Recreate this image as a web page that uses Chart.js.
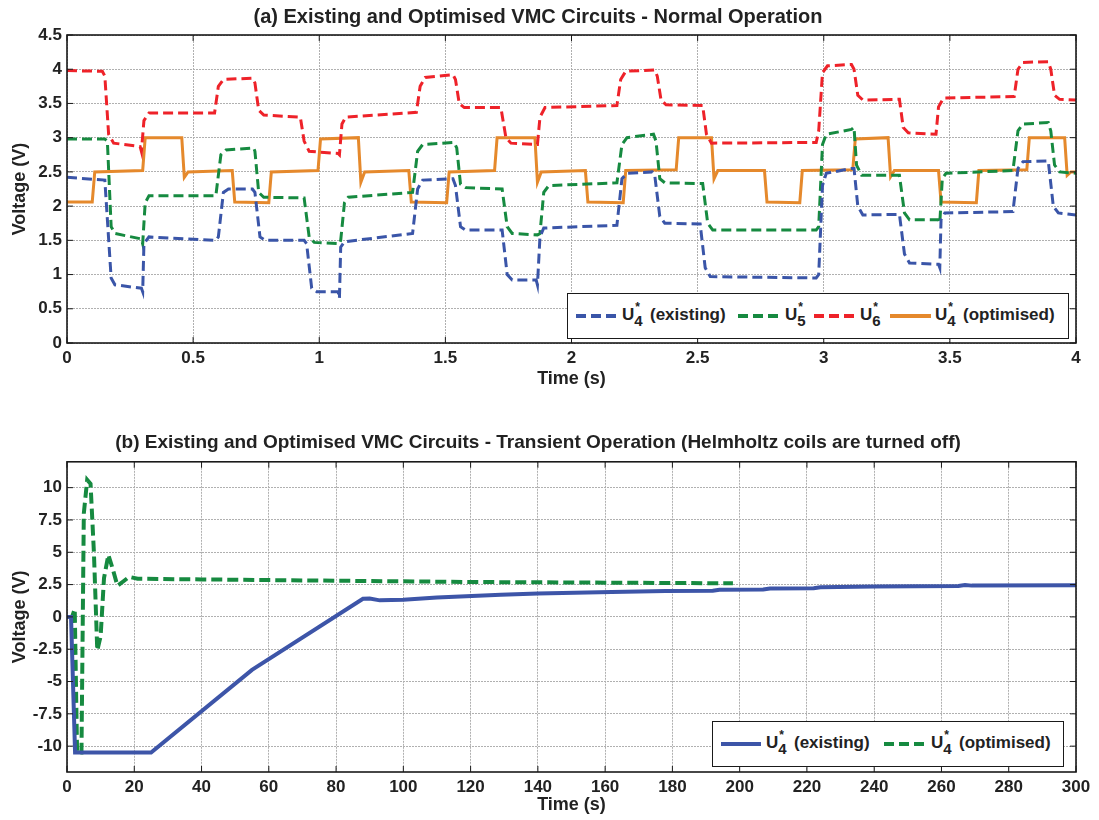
<!DOCTYPE html>
<html>
<head>
<meta charset="utf-8">
<script src="https://cdn.jsdelivr.net/npm/chart.js@4.4.1/dist/chart.umd.min.js"></script>
<style>
  html, body { margin: 0; padding: 0; background: #fff; }
  #page { position: relative; width: 1099px; height: 820px; overflow: hidden; }
  .wrap { position: absolute; left: 0; width: 1099px; }
  .legend { position: absolute; background: #fff; border: 1.5px solid #1a1a1a; box-sizing: border-box;
            font: bold 17px 'Liberation Sans', Arial, sans-serif; color: #222; }
  .swatch { position: absolute; height: 4px; }
  .lab { position: absolute; white-space: nowrap; line-height: 20px; }
  .ss { position: relative; display: inline-block; width: 11px; height: 10px; }
  .ss .sp { position: absolute; left: 1px; top: -13px; font-size: 12px; }
  .ss .sb { position: absolute; left: 0; top: 1px; font-size: 15px; }
</style>
</head>
<body>
<div id="page">
  <div class="wrap" style="top:0;height:390px"><canvas id="chartA"></canvas></div>
  <div class="wrap" style="top:425px;height:392px"><canvas id="chartB"></canvas></div>

  <div class="legend" style="left:567px;top:293px;width:502px;height:46px">
    <span class="swatch" style="left:8px;top:20px;width:40px;background:repeating-linear-gradient(to right,#3a55a8 0 10px,transparent 10px 15px)"></span>
    <span class="lab" style="left:54px;top:11px">U<span class="ss"><span class="sp">*</span><span class="sb">4</span></span> (existing)</span>
    <span class="swatch" style="left:170px;top:20px;width:41px;background:repeating-linear-gradient(to right,#168a40 0 10px,transparent 10px 15px)"></span>
    <span class="lab" style="left:217px;top:11px">U<span class="ss"><span class="sp">*</span><span class="sb">5</span></span></span>
    <span class="swatch" style="left:246px;top:20px;width:41px;background:repeating-linear-gradient(to right,#ee2229 0 10px,transparent 10px 15px)"></span>
    <span class="lab" style="left:292px;top:11px">U<span class="ss"><span class="sp">*</span><span class="sb">6</span></span></span>
    <span class="swatch" style="left:322px;top:20px;width:41px;background:#e5892c"></span>
    <span class="lab" style="left:367px;top:11px">U<span class="ss"><span class="sp">*</span><span class="sb">4</span></span> (optimised)</span>
  </div>

  <div class="legend" style="left:712px;top:721px;width:352px;height:46px">
    <span class="swatch" style="left:8px;top:20px;width:40px;background:#3d55a8"></span>
    <span class="lab" style="left:53px;top:11px">U<span class="ss"><span class="sp">*</span><span class="sb">4</span></span> (existing)</span>
    <span class="swatch" style="left:171px;top:20px;width:40px;background:repeating-linear-gradient(to right,#168a40 0 10px,transparent 10px 15px)"></span>
    <span class="lab" style="left:218px;top:11px">U<span class="ss"><span class="sp">*</span><span class="sb">4</span></span> (optimised)</span>
  </div>
</div>

<script>
// (a) normal operation: [time (s), voltage (V)]
const u4ExistingA = [[0,2.42],[0.15,2.38],[0.175,0.95],[0.19,0.85],[0.295,0.8],[0.3,0.75],[0.305,1.45],[0.325,1.55],
  [0.59,1.5],[0.6,1.55],[0.62,2.2],[0.64,2.25],[0.735,2.25],[0.745,2.2],[0.765,1.55],[0.785,1.5],[0.94,1.5],[0.95,1.45],
  [0.97,0.8],[0.99,0.75],[1.075,0.75],[1.08,0.65],[1.085,1.4],[1.1,1.48],[1.37,1.6],[1.39,2.25],[1.41,2.38],[1.53,2.4],
  [1.54,2.3],[1.56,1.7],[1.58,1.65],[1.725,1.65],[1.745,1.0],[1.765,0.92],[1.86,0.92],[1.865,0.85],[1.875,1.55],[1.89,1.68],
  [2.18,1.72],[2.2,2.4],[2.22,2.48],[2.32,2.5],[2.33,2.45],[2.35,1.85],[2.37,1.75],[2.51,1.74],[2.53,1.1],[2.55,0.97],
  [2.97,0.95],[2.98,1.0],[2.995,2.3],[3.01,2.48],[3.11,2.55],[3.12,2.55],[3.135,2.0],[3.155,1.87],[3.3,1.88],[3.32,1.3],
  [3.34,1.17],[3.455,1.15],[3.46,1.1],[3.465,1.8],[3.48,1.9],[3.75,1.92],[3.77,2.55],[3.79,2.65],[3.89,2.66],[3.91,2.0],
  [3.93,1.9],[4.0,1.87]];
const u5A = [[0,2.98],[0.15,2.98],[0.16,2.95],[0.175,1.7],[0.19,1.6],[0.295,1.52],[0.3,1.45],[0.31,2.05],[0.325,2.15],
  [0.59,2.15],[0.61,2.75],[0.63,2.82],[0.74,2.85],[0.745,2.8],[0.76,2.2],[0.78,2.13],[0.94,2.12],[0.96,1.55],[0.98,1.47],
  [1.08,1.45],[1.085,1.5],[1.1,2.05],[1.115,2.13],[1.37,2.2],[1.39,2.8],[1.41,2.9],[1.535,2.93],[1.545,2.85],[1.56,2.32],
  [1.58,2.27],[1.725,2.25],[1.745,1.7],[1.765,1.6],[1.865,1.58],[1.875,1.6],[1.89,2.2],[1.91,2.3],[2.18,2.34],[2.2,2.9],
  [2.22,3.0],[2.325,3.05],[2.335,2.95],[2.35,2.4],[2.37,2.34],[2.52,2.33],[2.54,1.75],[2.56,1.65],[2.97,1.65],[2.98,1.7],
  [2.995,2.9],[3.01,3.05],[3.11,3.12],[3.12,3.15],[3.13,2.6],[3.15,2.45],[3.3,2.45],[3.32,1.9],[3.34,1.8],[3.455,1.8],
  [3.46,1.75],[3.47,2.4],[3.485,2.48],[3.75,2.52],[3.77,3.1],[3.79,3.2],[3.89,3.22],[3.9,3.1],[3.915,2.6],[3.935,2.5],[4.0,2.48]];
const u6A = [[0,3.98],[0.14,3.97],[0.15,3.9],[0.165,3.05],[0.185,2.92],[0.29,2.87],[0.295,2.8],[0.305,3.25],[0.325,3.36],
  [0.585,3.36],[0.6,3.75],[0.62,3.85],[0.735,3.87],[0.745,3.8],[0.76,3.4],[0.78,3.33],[0.925,3.3],[0.94,2.95],[0.96,2.8],
  [1.075,2.77],[1.08,2.75],[1.09,3.2],[1.105,3.3],[1.385,3.37],[1.4,3.75],[1.42,3.88],[1.53,3.92],[1.54,3.85],[1.555,3.5],
  [1.575,3.44],[1.72,3.44],[1.74,3.0],[1.76,2.92],[1.865,2.9],[1.875,3.3],[1.895,3.44],[2.18,3.47],[2.195,3.85],[2.215,3.97],
  [2.33,3.99],[2.34,3.9],[2.355,3.55],[2.375,3.48],[2.52,3.47],[2.535,3.05],[2.555,2.92],[2.97,2.93],[2.98,3.1],[2.995,3.95],
  [3.015,4.05],[3.11,4.07],[3.12,4.0],[3.135,3.62],[3.155,3.55],[3.3,3.56],[3.315,3.15],[3.335,3.07],[3.445,3.05],[3.455,3.45],
  [3.475,3.58],[3.755,3.6],[3.77,4.0],[3.79,4.1],[3.89,4.11],[3.9,4.0],[3.915,3.62],[3.935,3.56],[4.0,3.55]];
const u4OptimisedA = [[0,2.06],[0.1,2.06],[0.11,2.5],[0.3,2.52],[0.31,3.0],[0.455,3.0],[0.465,2.42],[0.48,2.5],[0.655,2.52],
  [0.665,2.06],[0.8,2.05],[0.81,2.5],[0.995,2.52],[1.005,2.98],[1.155,3.0],[1.165,2.35],[1.18,2.5],[1.355,2.52],[1.365,2.06],
  [1.505,2.05],[1.515,2.5],[1.695,2.52],[1.705,3.0],[1.855,3.0],[1.865,2.35],[1.88,2.5],[2.055,2.52],[2.065,2.06],[2.205,2.05],
  [2.215,2.52],[2.415,2.53],[2.425,3.0],[2.555,3.0],[2.565,2.4],[2.58,2.52],[2.765,2.52],[2.775,2.06],[2.905,2.05],[2.915,2.52],
  [3.115,2.53],[3.125,2.98],[3.255,3.0],[3.265,2.43],[3.28,2.52],[3.455,2.52],[3.465,2.06],[3.605,2.05],[3.615,2.52],[3.805,2.53],
  [3.815,3.0],[3.955,3.0],[3.965,2.45],[3.98,2.5],[4.0,2.5]];

// (b) transient operation
const u4ExistingB = [[0,0],[1.2,0],[2.4,-10.5],[25,-10.5],[55,-4.1],[88,1.4],[90,1.42],[93,1.28],[100,1.33],[110,1.5],
  [129,1.72],[140,1.82],[162,1.93],[178,2.0],[192,2.03],[194,2.1],[207,2.12],[209,2.2],[222,2.22],[224,2.3],[240,2.35],
  [265,2.4],[267,2.47],[269,2.42],[300,2.45]];
const u4OptimisedB = [[0,0],[1.5,0],[2.3,0.6],[3.0,-10.5],[4.3,-10.5],[5.0,8],[6.0,10.6],[7.0,10.3],[8.0,5],[9.0,-2.6],
  [10,-1.5],[11,3],[12.3,4.8],[13.5,3.8],[15,2.4],[16.5,2.7],[18.5,3.1],[21,2.95],[40,2.9],[80,2.8],[120,2.7],[160,2.65],[198,2.6]];
const voltTicksB = [-10, -7.5, -5, -2.5, 0, 2.5, 5, 7.5, 10];

const titleA = '(a) Existing and Optimised VMC Circuits - Normal Operation';
const titleB = '(b) Existing and Optimised VMC Circuits - Transient Operation (Helmholtz coils are turned off)';

const FONT = "'Liberation Sans', Arial, sans-serif";

const framePlugin = {
  id: 'frame',
  afterDraw(chart) {
    const { ctx, chartArea: a, scales } = chart;
    ctx.save();
    ctx.strokeStyle = '#1a1a1a';
    ctx.lineWidth = 1;
    ctx.beginPath();
    scales.x.ticks.forEach(t => {
      const px = scales.x.getPixelForValue(t.value);
      ctx.moveTo(px, a.top); ctx.lineTo(px, a.top + 6);
      ctx.moveTo(px, a.bottom); ctx.lineTo(px, a.bottom - 6);
    });
    scales.y.ticks.forEach(t => {
      const py = scales.y.getPixelForValue(t.value);
      ctx.moveTo(a.left, py); ctx.lineTo(a.left + 6, py);
      ctx.moveTo(a.right, py); ctx.lineTo(a.right - 6, py);
    });
    ctx.stroke();
    ctx.lineWidth = 1.6;
    ctx.strokeRect(a.left, a.top, a.right - a.left, a.bottom - a.top);
    ctx.restore();
  }
};

function series(label, pts, color, width, dash) {
  return {
    label,
    data: pts.map(p => ({ x: p[0], y: p[1] })),
    borderColor: color,
    backgroundColor: color,
    borderWidth: width,
    borderDash: dash,
    pointRadius: 0,
    tension: 0,
    fill: false
  };
}

const tickFont = { family: FONT, size: 17, weight: 'bold' };
const axisFont = { family: FONT, size: 18, weight: 'bold' };
const plainNum = v => String(+Number(v).toFixed(2));

function makeChart(id, title, datasets, xOpts, yOpts, box) {
  return new Chart(document.getElementById(id), {
    type: 'line',
    data: { datasets },
    options: {
      responsive: true,
      maintainAspectRatio: false,
      animation: false,
      layout: { padding: { left: 0, right: 23, top: 0, bottom: 0 } },
      plugins: {
        legend: { display: false },
        tooltip: { enabled: false },
        title: {
          display: true,
          text: title,
          color: '#222',
          font: { family: FONT, size: box.titleSize, weight: 'bold' },
          padding: { top: box.titleTop, bottom: box.titleBottom }
        }
      },
      scales: {
        x: Object.assign({
          type: 'linear',
          afterFit: s => { s.height = box.xHeight; },
          grid: { color: '#b0b0b0', lineWidth: 1, drawTicks: false },
          border: { display: false, dash: [2, 1] },
          title: { display: true, text: 'Time (s)', color: '#222', padding: { top: box.xTitlePad, bottom: box.xTitlePad },
                   font: axisFont }
        }, xOpts),
        y: Object.assign({
          afterFit: s => { s.width = 67; },
          grid: { color: '#b0b0b0', lineWidth: 1, drawTicks: false },
          border: { display: false, dash: [2, 1] },
          title: { display: true, text: 'Voltage (V)', color: '#222', padding: { top: 9, bottom: 9 },
                   font: axisFont }
        }, yOpts)
      }
    },
    plugins: [framePlugin]
  });
}

makeChart('chartA', titleA, [
  series('U4* (existing)', u4ExistingA, '#3a55a8', 3, [10, 5]),
  series('U5*', u5A, '#168a40', 3, [10, 5]),
  series('U6*', u6A, '#ee2229', 3, [10, 5]),
  series('U4* (optimised)', u4OptimisedA, '#e5892c', 3, [])
], { min: 0, max: 4, ticks: { stepSize: 0.5, color: '#222', padding: 5, font: tickFont, callback: plainNum } },
   { min: 0, max: 4.5, ticks: { stepSize: 0.5, color: '#222', padding: 5, font: tickFont, callback: plainNum } },
   { titleSize: 20, titleTop: 5, titleBottom: 6, xHeight: 47, xTitlePad: 0 });

makeChart('chartB', titleB, [
  series('U4* (existing)', u4ExistingB, '#3d55a8', 4, []),
  series('U4* (optimised)', u4OptimisedB, '#168a40', 4, [11, 5])
], { min: 0, max: 300, ticks: { stepSize: 20, color: '#222', padding: 5, font: tickFont, callback: plainNum } },
   { min: -12, max: 12,
     afterBuildTicks: s => { s.ticks = voltTicksB.map(v => ({ value: v })); },
     ticks: { color: '#222', padding: 5, font: tickFont, callback: plainNum } },
   { titleSize: 19, titleTop: 6, titleBottom: 8, xHeight: 45, xTitlePad: 1 });
</script>
</body>
</html>
